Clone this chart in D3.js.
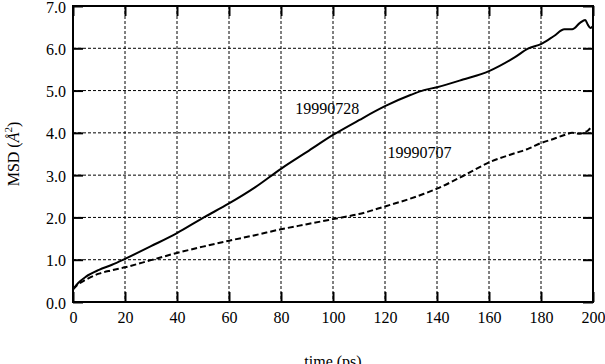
<!DOCTYPE html>
<html><head><meta charset="utf-8">
<script src="https://cdn.jsdelivr.net/npm/d3@7"></script>
<style>
html,body{margin:0;padding:0;background:#fff;}
text{font-family:"Liberation Serif","DejaVu Serif",serif;fill:#000;}
</style></head>
<body><svg id="c" width="605" height="364"></svg>
<script>
const times = [0, 2, 5, 10, 15, 20, 30, 40, 50, 60, 70, 80, 90, 100, 110, 120, 130, 135, 140, 150, 160, 170, 175, 180, 185, 189, 192, 195, 197, 198, 199, 200];
const msd0728 = [0.30, 0.45, 0.60, 0.76, 0.88, 1.02, 1.32, 1.63, 1.99, 2.33, 2.71, 3.15, 3.55, 3.95, 4.30, 4.63, 4.90, 5.01, 5.08, 5.26, 5.46, 5.79, 5.99, 6.10, 6.29, 6.45, 6.45, 6.60, 6.67, 6.56, 6.48, 6.52];
const msd0707 = [0.30, 0.42, 0.53, 0.67, 0.75, 0.82, 0.99, 1.16, 1.31, 1.45, 1.58, 1.72, 1.84, 1.96, 2.08, 2.26, 2.45, 2.56, 2.68, 2.98, 3.30, 3.52, 3.62, 3.76, 3.86, 3.95, 4.00, 3.98, 4.02, 4.05, 4.11, 4.13];
const xTicks = [0, 20, 40, 60, 80, 100, 120, 140, 160, 180, 200];
const yTicks = [0, 1, 2, 3, 4, 5, 6, 7];
const labels = [
  {text: "19990728", t: 85.5, v: 4.45},
  {text: "19990707", t: 121, v: 3.4}
];

const svg = d3.select("#c");
const L = 73, R = 593, T = 6, B = 302;
const x = d3.scaleLinear().domain([0, 200]).range([L, R]);
const y = d3.scaleLinear().domain([0, 7]).range([B, T]);

// grid
const g = svg.append("g");
g.selectAll("line.gx").data(xTicks.slice(1, -1)).join("line")
  .attr("x1", d => x(d)).attr("x2", d => x(d)).attr("y1", T).attr("y2", B)
  .attr("stroke", "#000").attr("stroke-width", 1).attr("stroke-dasharray", "3,2");
g.selectAll("line.gy").data(yTicks.slice(1, -1)).join("line")
  .attr("x1", L).attr("x2", R).attr("y1", d => y(d)).attr("y2", d => y(d))
  .attr("stroke", "#000").attr("stroke-width", 1).attr("stroke-dasharray", "3,2");

// axes using d3 axes
const fmtY = d3.format(".1f");
const ax = svg.append("g").attr("transform", `translate(0,${B})`)
  .call(d3.axisBottom(x).tickValues(xTicks).tickSize(-10).tickPadding(18).tickFormat(d3.format("d")));
const ay = svg.append("g").attr("transform", `translate(${L},0)`)
  .call(d3.axisLeft(y).tickValues(yTicks).tickSize(-10).tickPadding(7).tickFormat(fmtY));
const at = svg.append("g").attr("transform", `translate(0,${T})`)
  .call(d3.axisTop(x).tickValues(xTicks).tickSize(-10).tickFormat(""));
const ar = svg.append("g").attr("transform", `translate(${R},0)`)
  .call(d3.axisRight(y).tickValues(yTicks).tickSize(-10).tickFormat(""));
[ax, ay, at, ar].forEach(a => {
  a.select(".domain").remove();
  a.selectAll(".tick line").attr("stroke", "#000").attr("stroke-width", 2);
  a.selectAll(".tick text").attr("font-family", "Liberation Serif").attr("font-size", 16).attr("fill", "#000");
});
ax.selectAll(".tick text").attr("dy", "0.2em");
ay.selectAll(".tick text").attr("dy", "0.38em");

// frame
svg.append("rect").attr("x", L).attr("y", T).attr("width", R - L).attr("height", B - T)
  .attr("fill", "none").attr("stroke", "#000").attr("stroke-width", 2);

// lines
const line = (vals) => d3.line().curve(d3.curveMonotoneX).x((d, i) => x(times[i])).y(d => y(d))(vals);
svg.append("path").attr("d", line(msd0728)).attr("fill", "none").attr("stroke", "#000")
  .attr("stroke-width", 2).attr("stroke-linejoin", "round");
svg.append("path").attr("d", line(msd0707)).attr("fill", "none").attr("stroke", "#000")
  .attr("stroke-width", 2).attr("stroke-dasharray", "6,3");

// labels
svg.selectAll("text.lab").data(labels).join("text").attr("class", "lab")
  .attr("x", d => x(d.t)).attr("y", d => y(d.v)).attr("font-size", 16).text(d => d.text);

// axis titles
svg.append("text").attr("x", (L + R) / 2).attr("y", 367).attr("text-anchor", "middle")
  .attr("font-size", 16).text("time (ps)");
const yt = svg.append("text").attr("transform", `translate(19,${(T + B) / 2}) rotate(-90)`)
  .attr("text-anchor", "middle").attr("font-size", 16);
yt.append("tspan").text("MSD (");
yt.append("tspan").attr("font-style", "italic").text("Å");
yt.append("tspan").attr("font-size", 11).attr("dy", -7).text("2");
yt.append("tspan").attr("dy", 7).text(")");
</script></body></html>
